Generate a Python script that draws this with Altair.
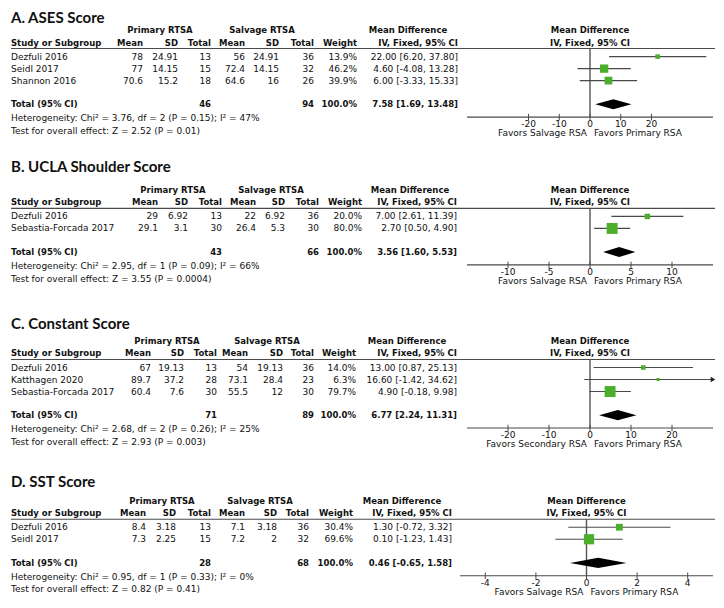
import altair as alt
import pandas as pd

# ---------------- data ----------------
titles = ["A. ASES Score", "B. UCLA Shoulder Score", "C. Constant Score", "D. SST Score"]

studies_A = ["Dezfuli 2016", "Seidl 2017", "Shannon 2016"]
prim_mean_A = [78, 77, 70.6]
prim_sd_A = [24.91, 14.15, 15.2]
prim_n_A = [13, 15, 18]
salv_mean_A = [56, 72.4, 64.6]
salv_sd_A = [24.91, 14.15, 16]
salv_n_A = [36, 32, 26]
weight_A = [13.9, 46.2, 39.9]
md_A = [22.00, 4.60, 6.00]
lo_A = [6.20, -4.08, -3.33]
hi_A = [37.80, 13.28, 15.33]
total_A = [46, 94, 100.0, 7.58, 1.69, 13.48]
het_A = "Heterogeneity: Chi² = 3.76, df = 2 (P = 0.15); I² = 47%"
test_A = "Test for overall effect: Z = 2.52 (P = 0.01)"
ticks_A = [-20, -10, 0, 10, 20]
favors_A = ["Favors Salvage RSA", "Favors Primary RSA"]

studies_B = ["Dezfuli 2016", "Sebastia-Forcada 2017"]
prim_mean_B = [29, 29.1]
prim_sd_B = [6.92, 3.1]
prim_n_B = [13, 30]
salv_mean_B = [22, 26.4]
salv_sd_B = [6.92, 5.3]
salv_n_B = [36, 30]
weight_B = [20.0, 80.0]
md_B = [7.00, 2.70]
lo_B = [2.61, 0.50]
hi_B = [11.39, 4.90]
total_B = [43, 66, 100.0, 3.56, 1.60, 5.53]
het_B = "Heterogeneity: Chi² = 2.95, df = 1 (P = 0.09); I² = 66%"
test_B = "Test for overall effect: Z = 3.55 (P = 0.0004)"
ticks_B = [-10, -5, 0, 5, 10]
favors_B = ["Favors Salvage RSA", "Favors Primary RSA"]

studies_C = ["Dezfuli 2016", "Katthagen 2020", "Sebastia-Forcada 2017"]
prim_mean_C = [67, 89.7, 60.4]
prim_sd_C = [19.13, 37.2, 7.6]
prim_n_C = [13, 28, 30]
salv_mean_C = [54, 73.1, 55.5]
salv_sd_C = [19.13, 28.4, 12]
salv_n_C = [36, 23, 30]
weight_C = [14.0, 6.3, 79.7]
md_C = [13.00, 16.60, 4.90]
lo_C = [0.87, -1.42, -0.18]
hi_C = [25.13, 34.62, 9.98]
total_C = [71, 89, 100.0, 6.77, 2.24, 11.31]
het_C = "Heterogeneity: Chi² = 2.68, df = 2 (P = 0.26); I² = 25%"
test_C = "Test for overall effect: Z = 2.93 (P = 0.003)"
ticks_C = [-20, -10, 0, 10, 20]
favors_C = ["Favors Secondary RSA", "Favors Primary RSA"]

studies_D = ["Dezfuli 2016", "Seidl 2017"]
prim_mean_D = [8.4, 7.3]
prim_sd_D = [3.18, 2.25]
prim_n_D = [13, 15]
salv_mean_D = [7.1, 7.2]
salv_sd_D = [3.18, 2]
salv_n_D = [36, 32]
weight_D = [30.4, 69.6]
md_D = [1.30, 0.10]
lo_D = [-0.72, -1.23]
hi_D = [3.32, 1.43]
total_D = [28, 68, 100.0, 0.46, -0.65, 1.58]
het_D = "Heterogeneity: Chi² = 0.95, df = 1 (P = 0.33); I² = 0%"
test_D = "Test for overall effect: Z = 0.82 (P = 0.41)"
ticks_D = [-4, -2, 0, 2, 4]
favors_D = ["Favors Salvage RSA", "Favors Primary RSA"]

axis_range = [(-40, 40), (-15, 15), (-30, 30), (-5, 5)]

col_headers_1 = ["Primary RTSA", "Salvage RTSA", "Mean Difference"]
col_headers_2 = ["Mean", "SD", "Total", "Mean", "SD", "Total", "Weight", "IV, Fixed, 95% CI"]
forest_headers = ["Mean Difference", "IV, Fixed, 95% CI"]
total_label = "Total (95% CI)"
study_header = "Study or Subgroup"

panels = [
    dict(studies=studies_A, pm=prim_mean_A, psd=prim_sd_A, pn=prim_n_A, sm=salv_mean_A, ssd=salv_sd_A,
         sn=salv_n_A, w=weight_A, md=md_A, lo=lo_A, hi=hi_A, tot=total_A, het=het_A, test=test_A,
         ticks=ticks_A, fav=favors_A),
    dict(studies=studies_B, pm=prim_mean_B, psd=prim_sd_B, pn=prim_n_B, sm=salv_mean_B, ssd=salv_sd_B,
         sn=salv_n_B, w=weight_B, md=md_B, lo=lo_B, hi=hi_B, tot=total_B, het=het_B, test=test_B,
         ticks=ticks_B, fav=favors_B),
    dict(studies=studies_C, pm=prim_mean_C, psd=prim_sd_C, pn=prim_n_C, sm=salv_mean_C, ssd=salv_sd_C,
         sn=salv_n_C, w=weight_C, md=md_C, lo=lo_C, hi=hi_C, tot=total_C, het=het_C, test=test_C,
         ticks=ticks_C, fav=favors_C),
    dict(studies=studies_D, pm=prim_mean_D, psd=prim_sd_D, pn=prim_n_D, sm=salv_mean_D, ssd=salv_sd_D,
         sn=salv_n_D, w=weight_D, md=md_D, lo=lo_D, hi=hi_D, tot=total_D, het=het_D, test=test_D,
         ticks=ticks_D, fav=favors_D),
]

# ---------------- layout (positions / styles) ----------------
W = 708
S = 12.0                # px per text line slot
H_SLOTS = 49
H = H_SLOTS * S
TITLE_SLOT = [0.8, 13.25, 26.33, 39.5]
TITLE_GAP = [1.05, 1.92, 1.43, 1.57]
LEFT = 3
LINE_END = 707
COLS = [
    [135, 170, 203, 237, 271, 306, 349, 450],
    [150, 180, 214, 248, 277, 311, 354, 449],
    [143, 176, 209, 240, 275, 306, 348, 449],
    [138, 168, 203, 237, 269, 301, 345, 444],
]
GROUP_CENTERS = [
    [152, 254, 400],
    [165, 263, 402],
    [159, 259, 399],
    [154, 252, 394],
]
AXIS_PX = [(459, 705), (459, 705), (459, 705), (452, 705)]

FONT = "DejaVu Sans"
TITLE_FONT = "Lato"
GREEN = "#4caf2c"
LINE_COL = "#4a4a4a"
TEXT_COL = "#111111"


def fmt(v):
    return str(int(v)) if float(v).is_integer() else str(v)


def slots(p, n):
    t = TITLE_SLOT[p]
    h1 = t + TITLE_GAP[p]
    h2 = h1 + 1.03
    line = h2 + 0.5
    rows = [h2 + 1.17 + i for i in range(n)]
    total = rows[-1] + 1.97
    het = total + 1.14
    test = het + 1.07
    axis = total + 1.07
    return dict(t=t, h1=h1, h2=h2, line=line, rows=rows, total=total, het=het, test=test, axis=axis)


Y = alt.Y("y:Q", scale=alt.Scale(domain=[0, H_SLOTS], reverse=True, nice=False, zero=False), axis=None)
Y2 = alt.Y2("y2:Q")

# ---------------- table (text) layer ----------------
cells = []
hrules = []


def add(x, y, text, style):
    cells.append(dict(x=x, y=y, text=text, style=style))


for p, d in enumerate(panels):
    L = slots(p, len(d["studies"]))
    cols = COLS[p]
    add(LEFT, L["t"], titles[p], "title")
    for cx, lab in zip(GROUP_CENTERS[p], col_headers_1):
        add(cx, L["h1"], lab, "bc")
    add(LEFT, L["h2"], study_header, "bl")
    for cx, lab in zip(cols, col_headers_2):
        add(cx, L["h2"], lab, "br")
    for i, st in enumerate(d["studies"]):
        y = L["rows"][i]
        add(LEFT, y, st, "l")
        vals = [fmt(d["pm"][i]), fmt(d["psd"][i]), fmt(d["pn"][i]), fmt(d["sm"][i]), fmt(d["ssd"][i]),
                fmt(d["sn"][i]), f"{d['w'][i]:.1f}%",
                f"{d['md'][i]:.2f} [{d['lo'][i]:.2f}, {d['hi'][i]:.2f}]"]
        for cx, v in zip(cols, vals):
            add(cx, y, v, "r")
    tot = d["tot"]
    add(LEFT, L["total"], total_label, "bl")
    add(cols[2], L["total"], fmt(tot[0]), "br")
    add(cols[5], L["total"], fmt(tot[1]), "br")
    add(cols[6], L["total"], f"{tot[2]:.1f}%", "br")
    add(cols[7], L["total"], f"{tot[3]:.2f} [{tot[4]:.2f}, {tot[5]:.2f}]", "br")
    add(LEFT, L["het"], d["het"], "l")
    add(LEFT, L["test"], d["test"], "l")
    hrules.append(dict(x=LEFT, x2=LINE_END, y=L["line"]))

cells_df = pd.DataFrame(cells)
hrules_df = pd.DataFrame(hrules)

XT = alt.X("x:Q", scale=alt.Scale(domain=[0, W], nice=False, zero=False), axis=None)

styles = {
    "title": dict(align="left", font=TITLE_FONT, fontSize=15, fontWeight="bold"),
    "l": dict(align="left", font=FONT, fontSize=9),
    "r": dict(align="right", font=FONT, fontSize=9),
    "bl": dict(align="left", font=FONT, fontSize=8.5, fontWeight="bold"),
    "br": dict(align="right", font=FONT, fontSize=8.5, fontWeight="bold"),
    "bc": dict(align="center", font=FONT, fontSize=8.5, fontWeight="bold"),
}

table_layers = []
for st, kw in styles.items():
    table_layers.append(
        alt.Chart(cells_df).transform_filter(alt.datum.style == st)
        .mark_text(baseline="middle", color=TEXT_COL, **kw)
        .encode(x=XT, y=Y, text="text:N")
    )
table_layers.append(
    alt.Chart(hrules_df).mark_rule(color=LINE_COL, strokeWidth=1.1)
    .encode(x=XT, x2=alt.X2("x2:Q"), y=Y)
)
table = alt.layer(*table_layers)


# ---------------- forest layers ----------------
def forest(p, d):
    L = slots(p, len(d["studies"]))
    amin, amax = axis_range[p]
    px0, px1 = AXIS_PX[p]
    ppu = (px1 - px0) / (amax - amin)
    dom = [amin - px0 / ppu, amin + (W - px0) / ppu]
    X = alt.X("x:Q", scale=alt.Scale(domain=dom, nice=False, zero=False), axis=None)
    X2 = alt.X2("x2:Q")

    ci = pd.DataFrame(dict(
        x=[max(v, amin) for v in d["lo"]],
        x2=[min(v, amax) for v in d["hi"]],
        y=L["rows"],
    ))
    sq = pd.DataFrame(dict(x=d["md"], y=L["rows"], w=d["w"]))
    arrows = pd.DataFrame(dict(
        x=[amax for v in d["hi"] if v > amax],
        y=[L["rows"][i] for i, v in enumerate(d["hi"]) if v > amax],
    ))
    tot = d["tot"]
    hh = 0.42
    dia = pd.DataFrame(dict(
        x=[tot[4], tot[3], tot[5]],
        y=[L["total"], L["total"] - hh, L["total"]],
        y2=[L["total"], L["total"] + hh, L["total"]],
    ))
    zero = pd.DataFrame(dict(x=[0], y=[L["line"]], y2=[L["axis"]]))
    axl = pd.DataFrame(dict(x=[amin], x2=[amax], y=[L["axis"]]))
    tk = pd.DataFrame(dict(x=d["ticks"], y=[L["axis"] - 0.27] * len(d["ticks"]),
                           y2=[L["axis"] + 0.27] * len(d["ticks"]),
                           ya=[L["axis"]] * len(d["ticks"]),
                           text=[str(t) for t in d["ticks"]]))
    fh = pd.DataFrame(dict(x=[0, 0], y=[L["h1"], L["h2"]], text=forest_headers))
    fav = pd.DataFrame(dict(x=[0, 0], y=[L["axis"], L["axis"]], text=d["fav"], side=["l", "r"]))

    layers = [
        alt.Chart(zero).mark_rule(color="#555555", strokeWidth=1.4).encode(x=X, y=Y, y2=Y2),
        alt.Chart(ci).mark_rule(color=LINE_COL, strokeWidth=1.2).encode(x=X, x2=X2, y=Y),
        alt.Chart(sq).mark_square(filled=True, color=GREEN, opacity=1).encode(
            x=X, y=Y, size=alt.Size("w:Q", scale=alt.Scale(domain=[0, 100], range=[0, 150]), legend=None)),
        alt.Chart(dia).mark_area(color="#000000", opacity=1).encode(x=X, y=Y, y2=Y2),
        alt.Chart(axl).mark_rule(color=LINE_COL, strokeWidth=1.1).encode(x=X, x2=X2, y=Y),
        alt.Chart(tk).mark_rule(color=LINE_COL, strokeWidth=1).encode(x=X, y=Y, y2=Y2),
        alt.Chart(tk).mark_text(font=FONT, fontSize=9, color=TEXT_COL, baseline="middle", dy=7)
        .encode(x=X, y=alt.Y("ya:Q", scale=alt.Scale(domain=[0, H_SLOTS], reverse=True, nice=False, zero=False),
                               axis=None), text="text:N"),
        alt.Chart(fh).mark_text(font=FONT, fontSize=8.5, fontWeight="bold", color=TEXT_COL, baseline="middle")
        .encode(x=X, y=Y, text="text:N"),
        alt.Chart(fav).transform_filter(alt.datum.side == "l")
        .mark_text(font=FONT, fontSize=9, color=TEXT_COL, baseline="middle", align="right", dx=-3, dy=16)
        .encode(x=X, y=Y, text="text:N"),
        alt.Chart(fav).transform_filter(alt.datum.side == "r")
        .mark_text(font=FONT, fontSize=9, color=TEXT_COL, baseline="middle", align="left", dx=4, dy=16)
        .encode(x=X, y=Y, text="text:N"),
    ]
    if len(arrows):
        layers.append(
            alt.Chart(arrows).mark_point(shape="triangle-right", filled=True, color="#222222", size=28, opacity=1)
            .encode(x=X, y=Y)
        )
    return alt.layer(*layers)


forests = [forest(p, d) for p, d in enumerate(panels)]

chart = (
    alt.layer(table, *forests)
    .resolve_scale(x="independent")
    .properties(width=W, height=H, padding=0, background="white")
    .configure_view(stroke=None)
)

chart.save("out.html", embed_options={"renderer": "svg", "actions": False})
